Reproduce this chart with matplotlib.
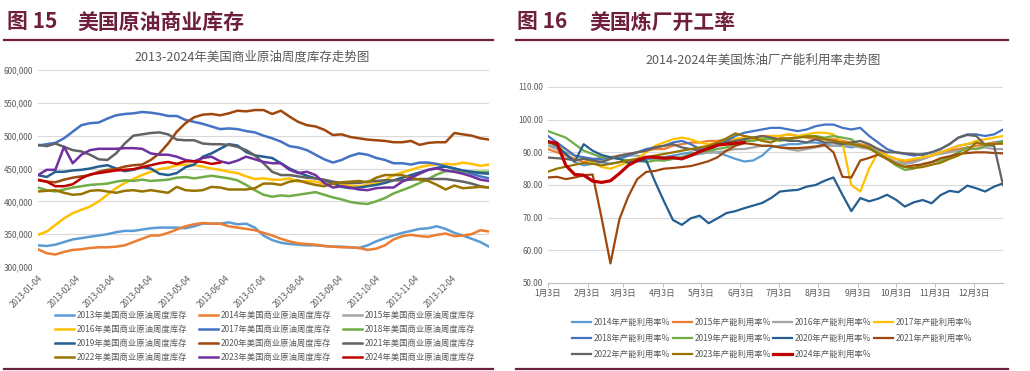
import datetime as dt
import matplotlib
matplotlib.use("Agg")
import matplotlib.pyplot as plt
import matplotlib.dates as mdates
import matplotlib.ticker as ticker
from matplotlib.lines import Line2D
import numpy as np

plt.rcParams['font.family'] = ['Noto Sans CJK SC', 'DejaVu Sans']

# ---------------- left chart: weekly commercial crude stocks (thousand bbl)
stock_years = ["2013", "2014", "2015", "2016", "2017", "2018",
               "2019", "2020", "2021", "2022", "2023", "2024"]
stock_2013 = [333, 332, 334, 338, 342, 344, 346, 348, 350, 353,
              355, 355, 357, 359, 360, 360, 360, 359, 362, 366,
              366, 366, 368, 365, 366, 360, 348, 341, 337, 335,
              334, 333, 333, 332, 331, 331, 330, 329, 333, 339,
              344, 348, 352, 355, 358, 359, 362, 358, 352, 348,
              343, 338, 331]
stock_2014 = [327, 321, 319, 323, 326, 327, 329, 330, 330, 331,
              333, 338, 343, 348, 348, 352, 357, 362, 365, 367,
              366, 366, 362, 360, 358, 356, 352, 348, 343, 339,
              336, 335, 334, 332, 331, 330, 330, 329, 326, 328,
              333, 342, 347, 349, 347, 346, 349, 351, 347, 348,
              350, 356, 354]
stock_2015 = []  # not visible in the chart
stock_2016 = [349, 354, 364, 374, 382, 387, 392, 400, 410, 420,
              428, 434, 440, 445, 449, 451, 455, 456, 455, 453,
              450, 448, 445, 443, 438, 434, 435, 433, 433, 435,
              430, 431, 430, 427, 426, 426, 424, 423, 425, 428,
              432, 440, 444, 448, 452, 455, 456, 457, 456, 459,
              457, 454, 456]
stock_2017 = [485, 487, 489, 496, 506, 516, 519, 520, 526, 531,
              533, 534, 536, 535, 533, 530, 530, 524, 521, 518,
              514, 510, 511, 510, 507, 505, 500, 496, 491, 484,
              482, 478, 471, 464, 459, 463, 469, 473, 471, 466,
              463, 458, 458, 456, 459, 459, 457, 453, 450, 446,
              442, 438, 435]
stock_2018 = [421, 417, 415, 418, 421, 423, 425, 426, 427, 430,
              432, 431, 433, 431, 432, 433, 436, 437, 435, 437,
              439, 437, 435, 432, 425, 417, 410, 407, 409, 408,
              410, 412, 414, 410, 406, 403, 399, 397, 396, 400,
              405, 412, 417, 422, 428, 434, 441, 446, 446, 445,
              445, 445, 445]
stock_2019 = [440, 437, 445, 445, 447, 448, 450, 453, 455, 450,
              446, 448, 452, 450, 442, 440, 443, 452, 456, 468,
              473, 480, 487, 485, 475, 470, 468, 466, 458, 450,
              444, 439, 435, 432, 428, 422, 420, 421, 423, 425,
              428, 432, 436, 440, 444, 448, 451, 453, 450, 447,
              445, 443, 442]
stock_2020 = [432, 430, 429, 433, 436, 438, 440, 445, 448, 449,
              453, 455, 456, 463, 473, 488, 506, 519, 528, 532,
              533, 531, 534, 538, 537, 539, 539, 533, 538, 529,
              521, 516, 514, 509, 501, 502, 498, 496, 494, 493,
              492, 490, 490, 492, 486, 489, 490, 490, 504, 502,
              500, 496, 494]
stock_2021 = [486, 484, 488, 483, 478, 476, 471, 464, 463, 473,
              488, 500, 502, 504, 505, 502, 494, 493, 493, 488,
              487, 487, 486, 483, 478, 470, 458, 445, 440, 440,
              438, 436, 435, 433, 430, 428, 428, 428, 430, 431,
              432, 432, 432, 433, 434, 434, 434, 434, 432, 430,
              427, 423, 421]
stock_2022 = [415, 416, 417, 413, 410, 411, 416, 417, 415, 413,
              416, 417, 415, 417, 415, 413, 422, 417, 416, 417,
              422, 421, 418, 418, 418, 420, 427, 427, 425, 430,
              432, 428, 425, 423, 427, 429, 430, 431, 429, 436,
              440, 440, 440, 436, 433, 431, 425, 418, 424, 420,
              421, 422, 421]
stock_2023 = [440, 448, 448, 483, 458, 471, 478, 480, 480, 480,
              481, 481, 480, 473, 471, 471, 468, 463, 461, 466,
              468, 461, 458, 462, 468, 464, 460, 458, 458, 448,
              443, 445, 440, 428, 421, 423, 421, 418, 417, 420,
              421, 421, 430, 436, 442, 448, 450, 447, 445, 442,
              438, 433, 431]
stock_2024 = [433, 430, 423, 423, 426, 435, 441, 443, 445, 447,
              448, 449, 452, 455, 458, 460, 457, 461, 461, 460,
              457, 459]
stock_series = [stock_2013, stock_2014, stock_2015, stock_2016, stock_2017, stock_2018,
                stock_2019, stock_2020, stock_2021, stock_2022, stock_2023, stock_2024]
stock_colors = ['#5B9BD5', '#ED7D31', '#A5A5A5', '#FFC000', '#4472C4', '#70AD47',
                '#255E91', '#9E480E', '#636363', '#997300', '#7030A0', '#C00000']

# ---------------- right chart: refinery utilisation (%)
util_years = ["2014", "2015", "2016", "2017", "2018", "2019",
              "2020", "2021", "2022", "2023", "2024"]
util_2014 = [93, 91, 89, 87, 86, 86.5, 87, 86.5, 87, 87.5,
             88, 88, 88, 88.5, 89, 89.5, 90, 89.5, 90, 90,
             89, 88, 87.2, 87.5, 89, 91.5, 92, 92.5, 92.5, 93,
             93, 92.5, 92, 92, 91.5, 92, 91.5, 90, 88, 87,
             86.5, 87, 88, 89, 90, 91, 92, 92.5, 93, 92.5,
             93, 93.5]
util_2015 = [91, 90, 89, 88, 87, 87.5, 88.5, 88.5, 89, 89.5,
             90, 90.5, 91, 91, 92, 92.5, 93, 93, 93.5, 93.5,
             94, 94, 94.5, 94.5, 95, 95, 95, 95.5, 95, 94.5,
             94, 94, 94, 93.5, 93, 92.5, 92, 91, 89, 88,
             87, 87.5, 88, 89, 90, 90.5, 91, 91.5, 92, 92.5,
             93, 92.5]
util_2016 = [92, 91, 90, 89, 88, 88, 87.5, 88, 88.5, 89,
             89, 88.5, 88, 87.5, 88, 88.5, 89, 89.5, 90, 90,
             90.5, 91, 91, 91.5, 92, 92, 91.5, 91, 90.5, 91,
             91.5, 92, 92, 92.5, 92, 91.5, 91, 90, 88.5, 87,
             86.5, 87, 88, 89, 89.5, 90, 90.5, 91, 91, 91.5,
             91, 91]
util_2017 = [93, 92, 91, 89, 88, 87, 85.5, 85, 86, 87,
             88, 90, 92, 93, 94, 94.5, 94, 93, 92.5, 93,
             93.5, 94, 94.5, 94, 94.5, 95, 95, 95.5, 95, 95.5,
             96, 96, 95.5, 93, 80, 78, 85, 90, 89, 88,
             87.5, 88, 88.5, 89, 90, 91, 92, 92.5, 93.5, 94,
             94.5, 95]
util_2018 = [95, 93, 91, 89, 88.5, 88, 88, 88.5, 88, 89,
             90, 91, 91.5, 92, 93, 93.5, 92.5, 91, 90.5, 92,
             93.5, 95, 96, 96.5, 97, 97.5, 97.5, 97, 96.5, 97,
             98, 98.5, 98.5, 97.5, 97, 97.5, 95, 93, 91, 90,
             89.5, 89, 89.5, 90, 91, 92.5, 94.5, 95.5, 95.5, 95,
             95.5, 97]
util_2019 = [96.5, 95.5, 94.5, 92.5, 90.5, 89.5, 88.5, 88.5, 88, 87.5,
             87.5, 87, 87.5, 87.5, 88, 88.5, 89.5, 90, 90.5, 91,
             91.5, 92.5, 93.5, 93.5, 94, 94, 93.5, 94, 94.5, 95,
             95, 94.5, 95, 94.5, 94, 92, 91.5, 90, 88, 86,
             84.6, 85, 86.5, 87, 87.5, 88.5, 90, 91.5, 91, 92,
             92.5, 93.3]
util_2020 = [93.5, 92, 89.5, 87.2, 92.5, 90.5, 89.2, 88.5, 88, 86.8,
             87.2, 87.6, 81, 75, 69.3, 67.8, 69.8, 70.6, 68.3, 69.8,
             71.4, 72, 72.9, 73.7, 74.5, 76, 78, 78.3, 78.5, 79.5,
             80, 81.3, 82.3, 77, 72, 76, 75, 75.8, 77, 75.5,
             73.4, 74.7, 75.4, 74.4, 76.9, 78.2, 77.8, 79.8, 79, 78,
             79.5, 80.5]
util_2021 = [82.3, 82.5, 81.8, 82.3, 83, 83.2, 70, 56, 69.5, 76.5,
             81.8, 84, 84.3, 85, 85.2, 85.5, 85.8, 86.5, 87.3, 88.5,
             90.5, 92, 92.8, 92.5, 92, 92, 91.5, 91.3, 91.3, 91.5,
             91.8, 92.3, 90, 82.5, 82.3, 87.5, 88.3, 89.3, 88, 86.5,
             85.6, 86, 86.3, 87, 88.2, 88.8, 89.5, 89.8, 90, 90,
             89.8, 89.7]
util_2022 = [88.4, 88.2, 88, 87.5, 88, 87.5, 87, 88, 89, 89.5,
             90, 90.5, 91.5, 92, 92.5, 91.5, 91, 90.5, 91.5, 92.5,
             93, 93.5, 94, 94.5, 95, 94.5, 94, 93.5, 93.5, 93,
             94, 93, 93, 92.5, 93, 93.5, 92.5, 91, 90, 90,
             89.7, 89.5, 89.2, 90, 91, 92.5, 94.5, 95.3, 95, 92.3,
             92, 80]
util_2023 = [84.1, 85, 85.6, 86.2, 86.7, 86.5, 86, 86.5, 87, 87.5,
             88, 88.5, 89, 89.5, 90, 90.5, 91, 91.5, 92, 93,
             94.3, 95.8, 95, 94.5, 93.5, 93, 94.3, 94.3, 94.5, 94.8,
             94.8, 94, 93.5, 93, 92.5, 92, 91.3, 89.5, 88, 86.5,
             85.5, 85.2, 85.5, 86.2, 86.8, 88, 89, 90.5, 93, 92.5,
             92.5, 92.8]
util_2024 = [93.2, 92.8, 86, 83.2, 83, 81.2, 80.8, 81.3, 83.5, 86,
             87.5, 88.5, 88.5, 88.2, 88.4, 88, 89, 90.2, 91.2, 92.2,
             92.5, 92.8, 93]
util_series = [util_2014, util_2015, util_2016, util_2017, util_2018, util_2019,
               util_2020, util_2021, util_2022, util_2023, util_2024]
util_colors = ['#5B9BD5', '#ED7D31', '#A5A5A5', '#FFC000', '#4472C4', '#70AD47',
               '#255E91', '#9E480E', '#636363', '#997300', '#C00000']
month_labels = [str(m) + "月3日" for m in range(1, 13)]

W, H = 1030, 371
maroon = '#6E1F3D'
grey_txt = '#595959'
grid_c = '#D9D9D9'


def fx(px):
    return px / W


def fy(py):
    return 1 - py / H


fig = plt.figure(figsize=(W / 100, H / 100), dpi=100)

# headers and rules
fig.text(fx(7), fy(22), "图 15", fontsize=15, fontweight='bold', color=maroon, va='center')
fig.text(fx(77), fy(22), "美国原油商业库存", fontsize=15, fontweight='bold', color=maroon, va='center')
fig.text(fx(517), fy(22), "图 16", fontsize=15, fontweight='bold', color=maroon, va='center')
fig.text(fx(589), fy(22), "美国炼厂开工率", fontsize=15, fontweight='bold', color=maroon, va='center')
for x0, x1 in [(4, 493), (516, 1008)]:
    fig.add_artist(Line2D([fx(x0), fx(x1)], [fy(40), fy(40)], color=maroon, lw=1.6))
    fig.add_artist(Line2D([fx(x0), fx(x1)], [fy(369), fy(369)], color=maroon, lw=1.6))

fig.text(fx(252), fy(57), "2013-2024年美国商业原油周度库存走势图", fontsize=9,
         color=grey_txt, ha='center', va='center')
fig.text(fx(763), fy(60), "2014-2024年美国炼油厂产能利用率走势图", fontsize=9,
         color=grey_txt, ha='center', va='center')

# ---------------- left axes
ax1 = fig.add_axes([fx(38), fy(267), fx(489 - 38), (267 - 70) / H])
start = dt.date(2013, 1, 4)
handles1 = []
for yr, vals, c in zip(stock_years, stock_series, stock_colors):
    d = [start + dt.timedelta(weeks=i) for i in range(len(vals))]
    v = [x * 1000 for x in vals]
    ln, = ax1.plot(d, v, color=c, lw=1.8, label=yr + "年美国商业原油周度库存")
    handles1.append(ln)
ax1.set_ylim(300000, 600000)
ax1.set_yticks(np.arange(300000, 600001, 50000))
ax1.yaxis.set_major_formatter(ticker.FuncFormatter(lambda v, p: "{:,.0f}".format(v)))
ax1.set_xlim(start, start + dt.timedelta(weeks=52))
ax1.set_xticks([dt.date(2013, m, 4) for m in range(1, 13)])
ax1.xaxis.set_major_formatter(mdates.DateFormatter('%Y-%m-%d'))
for lab in ax1.get_xticklabels():
    lab.set_rotation(45)
    lab.set_ha('right')
    lab.set_rotation_mode('anchor')
ax1.grid(axis='y', color=grid_c, lw=0.8)
ax1.set_axisbelow(True)
for s in ax1.spines.values():
    s.set_visible(False)
ax1.tick_params(axis='y', length=0, labelsize=5.8, labelcolor=grey_txt)
ax1.tick_params(axis='x', length=0, labelsize=5.8, labelcolor=grey_txt, pad=5)

order1 = [0, 3, 6, 9, 1, 4, 7, 10, 2, 5, 8, 11]
ax1.legend([handles1[i] for i in order1], [handles1[i].get_label() for i in order1],
           ncol=3, loc='upper left', bbox_to_anchor=(fx(55), fy(311)),
           bbox_transform=fig.transFigure, frameon=False, fontsize=6,
           handlelength=2.3, handletextpad=0.3, columnspacing=1.4,
           labelspacing=0.6, borderaxespad=0, borderpad=0, labelcolor=grey_txt)

# ---------------- right axes
ax2 = fig.add_axes([fx(548), fy(283), fx(1003 - 548), 196 / H])
handles2 = []
for yr, vals, c in zip(util_years, util_series, util_colors):
    xs = np.arange(len(vals)) * 7
    lw = 2.3 if yr == "2024" else 1.6
    ln, = ax2.plot(xs, vals, color=c, lw=lw, label=yr + "年产能利用率%")
    handles2.append(ln)
ax2.set_ylim(50, 110)
ax2.set_yticks(np.arange(50, 111, 10))
ax2.yaxis.set_major_formatter(ticker.FormatStrFormatter('%.2f'))
ax2.set_xlim(0, 357)
ax2.set_xticks([0, 31, 59, 90, 120, 151, 181, 212, 243, 273, 304, 334])
ax2.set_xticklabels(month_labels)
ax2.grid(axis='y', color=grid_c, lw=0.8)
ax2.set_axisbelow(True)
for s in ['top', 'right', 'left']:
    ax2.spines[s].set_visible(False)
ax2.spines['bottom'].set_color('#BFBFBF')
ax2.tick_params(axis='y', length=0, labelsize=5.8, labelcolor=grey_txt)
ax2.tick_params(axis='x', length=3, color='#BFBFBF', labelsize=6.2, labelcolor=grey_txt, pad=1)

order2 = [0, 4, 8, 1, 5, 9, 2, 6, 10, 3, 7]
ax2.legend([handles2[i] for i in order2], [handles2[i].get_label() for i in order2],
           ncol=4, loc='upper left', bbox_to_anchor=(fx(572), fy(318)),
           bbox_transform=fig.transFigure, frameon=False, fontsize=6,
           handlelength=2.3, handletextpad=0.3, columnspacing=0.3,
           labelspacing=0.85, borderaxespad=0, borderpad=0, labelcolor=grey_txt)

fig.savefig("out.png", dpi=100)
